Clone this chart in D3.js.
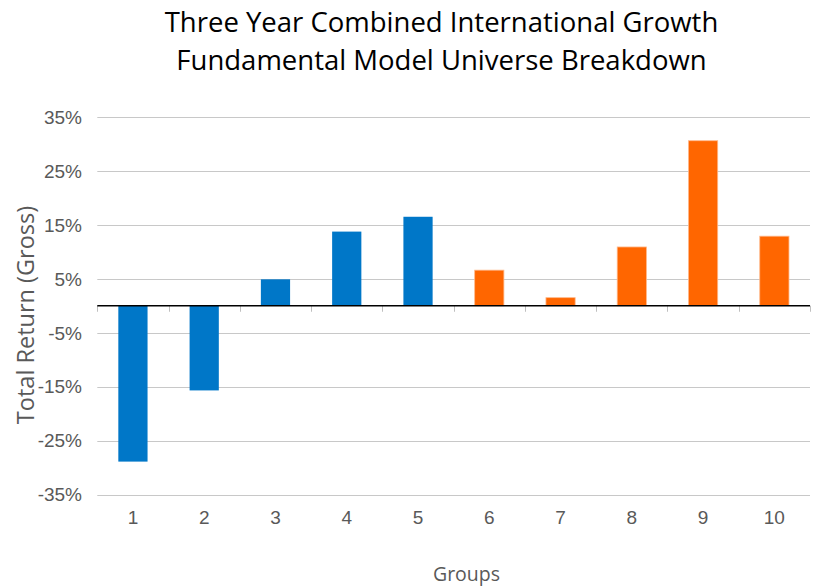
<!DOCTYPE html>
<html><head><meta charset="utf-8">
<script src="https://cdn.jsdelivr.net/npm/d3@7/dist/d3.min.js"></script>
<style>body{margin:0;background:#fff}</style>
</head><body>
<svg id="c" width="817" height="588"></svg>
<script>
const groups = ["1","2","3","4","5","6","7","8","9","10"];
const returns = [-28.9, -15.7, 4.9, 13.75, 16.5, 6.6, 1.5, 10.9, 30.6, 12.9];
const seriesColor = ["blue","blue","blue","blue","blue","orange","orange","orange","orange","orange"];
const yTicks = [35, 25, 15, 5, -5, -15, -25, -35];
const titleLines = ["Three Year Combined International Growth", "Fundamental Model Universe Breakdown"];
const colors = {blue:"#0077C8", orange:"#FF6600"};

(function(){
const svg = d3.select("#c");
const pLeft = 97.3, pRight = 810, pTop = 117, pBottom = 494.5;
const x = d3.scaleBand().domain(groups).range([pLeft, pRight]).paddingInner(0.59).paddingOuter(0.295);
const xb = d3.scaleBand().domain(groups).range([pLeft, pRight]).padding(0);
const y = d3.scaleLinear().domain([-35, 35]).range([pBottom, pTop]);

svg.append("g").selectAll("line").data(yTicks).join("line")
  .attr("x1", pLeft).attr("x2", pRight)
  .attr("y1", d => Math.round(y(d)) + 0.5).attr("y2", d => Math.round(y(d)) + 0.5)
  .attr("stroke", "#c8c8c8").attr("stroke-width", 1);

svg.append("g").selectAll("text").data(yTicks).join("text")
  .attr("x", 82).attr("y", d => y(d)).attr("dy", "0.36em")
  .attr("text-anchor", "end")
  .attr("font-family", "'Liberation Sans', Arial, sans-serif").attr("font-size", 19)
  .attr("fill", "#595959").text(d => d + "%");

svg.append("g").selectAll("rect").data(returns).join("rect")
  .attr("x", (d, i) => x(groups[i]))
  .attr("width", x.bandwidth())
  .attr("y", d => y(Math.max(0, d)))
  .attr("height", d => Math.abs(y(d) - y(0)))
  .attr("fill", (d, i) => colors[seriesColor[i]])
  .attr("stroke", (d, i) => seriesColor[i] === "orange" ? "#ffb88a" : "none")
  .attr("stroke-width", 0.8);

const bounds = groups.map(g => xb(g)).concat([pRight]);
svg.append("g").selectAll("line").data(bounds).join("line")
  .attr("x1", d => Math.round(d) + 0.5).attr("x2", d => Math.round(d) + 0.5)
  .attr("y1", y(0)).attr("y2", y(0) + 6)
  .attr("stroke", "#bfbfbf").attr("stroke-width", 1);

svg.append("line").attr("x1", pLeft).attr("x2", pRight)
  .attr("y1", y(0)).attr("y2", y(0))
  .attr("stroke", "#000").attr("stroke-width", 1.5);

svg.append("g").selectAll("text").data(groups).join("text")
  .attr("x", d => xb(d) + xb.bandwidth() / 2).attr("y", 524)
  .attr("text-anchor", "middle")
  .attr("font-family", "'Liberation Sans', Arial, sans-serif").attr("font-size", 19)
  .attr("fill", "#595959").text(d => d);

svg.append("g").selectAll("text").data(titleLines).join("text")
  .attr("x", 441.5).attr("y", (d, i) => 32 + i * 38)
  .attr("text-anchor", "middle")
  .attr("font-family", "'Open Sans', sans-serif").attr("font-size", 27.5)
  .attr("fill", "#000").text(d => d);

svg.append("text").attr("x", 466.5).attr("y", 581).attr("text-anchor", "middle")
  .attr("font-family", "'Open Sans', sans-serif").attr("font-size", 19.5)
  .attr("fill", "#595959").text("Groups");

svg.append("text").attr("transform", "translate(34,315) rotate(-90)")
  .attr("text-anchor", "middle")
  .attr("font-family", "'Open Sans', sans-serif").attr("font-size", 23.5)
  .attr("fill", "#595959").text("Total Return (Gross)");
})();
</script>
</body></html>
